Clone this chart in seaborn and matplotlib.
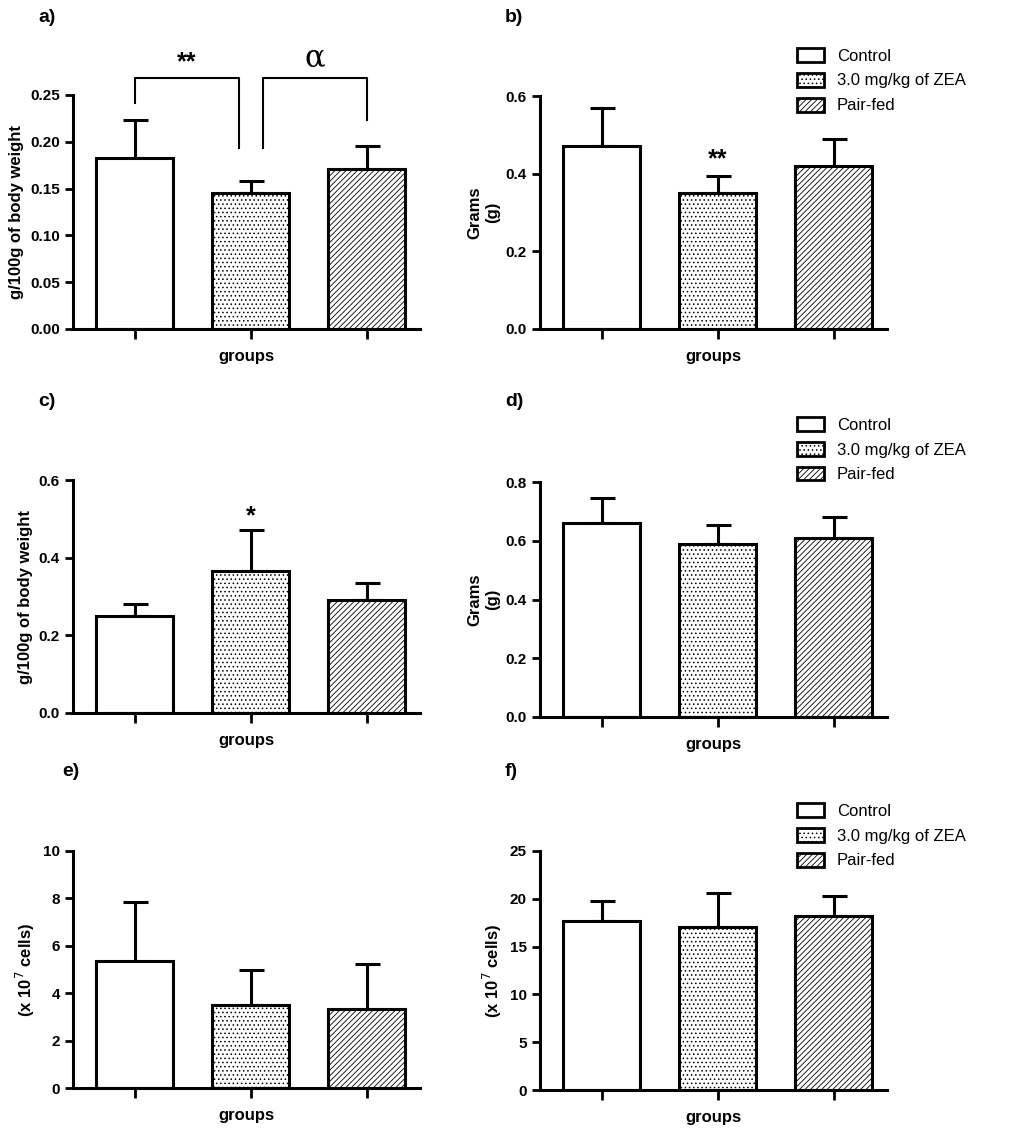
import matplotlib
matplotlib.use("Agg")
import matplotlib.pyplot as plt
import seaborn as sns
import pandas as pd
import numpy as np
from matplotlib.patches import Patch

plt.rcParams['font.family'] = 'Liberation Sans'
plt.rcParams['hatch.linewidth'] = 0.6

groups = ["Control", "3.0 mg/kg of ZEA", "Pair-fed"]
a_mean = [0.183, 0.145, 0.171]; a_sd = [0.040, 0.013, 0.024]
b_mean = [0.47, 0.35, 0.42];    b_sd = [0.10, 0.045, 0.07]
c_mean = [0.25, 0.365, 0.29];   c_sd = [0.03, 0.105, 0.045]
d_mean = [0.66, 0.59, 0.61];    d_sd = [0.085, 0.065, 0.07]
e_mean = [5.35, 3.5, 3.35];     e_sd = [2.5, 1.5, 1.9]
f_mean = [17.7, 17.0, 18.2];    f_sd = [2.1, 3.6, 2.1]

hatches = ["", "....", "//////"]
W, H = 1024, 1137
fig = plt.figure(figsize=(W/100, H/100), dpi=100)

def ax_px(left, top_y, bot_y, width=347):
    return fig.add_axes([left/W, 1-bot_y/H, width/W, (bot_y-top_y)/H])

def panel(ax, mean, sd, ymax, ystep, ylabel, fmt):
    df = pd.DataFrame({"group": groups, "value": mean})
    sns.barplot(data=df, x="group", y="value", ax=ax, color="white",
                edgecolor="black", linewidth=2.2, width=0.66, errorbar=None)
    for p, h in zip(ax.patches, hatches):
        p.set_hatch(h); p.set_zorder(2)
    xs = [p.get_x() + p.get_width()/2 for p in ax.patches]
    ax.errorbar(xs, mean, yerr=[np.zeros(3), sd], fmt="none", ecolor="black",
                elinewidth=2.2, capsize=9, capthick=2.2, zorder=1)
    ax.set_xlim(-0.53, 2.46)
    ax.set_ylim(0, ymax)
    ticks = np.arange(0, ymax + ystep/2, ystep)
    ax.set_yticks(ticks)
    ax.set_yticklabels([fmt.format(t) for t in ticks], fontweight="bold", fontsize=11)
    ax.set_xticks([0, 1, 2]); ax.set_xticklabels([])
    ax.tick_params(axis="x", direction="out", length=7, width=2)
    ax.tick_params(axis="y", direction="out", length=6, width=2)
    ax.set_xlabel("groups", fontweight="bold", fontsize=12)
    ax.set_ylabel(ylabel, fontweight="bold", fontsize=12)
    sns.despine(ax=ax)
    for s in ["left", "bottom"]:
        ax.spines[s].set_linewidth(2.2)

def legend(x, y):
    handles = [Patch(facecolor="white", edgecolor="black", hatch=h, linewidth=2, label=g)
               for g, h in zip(groups, hatches)]
    fig.legend(handles=handles, loc="upper left", bbox_to_anchor=(x/W, 1-y/H),
               frameon=False, fontsize=12, handlelength=1.6, handleheight=0.9,
               labelspacing=0.55)

axa = ax_px(73, 95, 329)
panel(axa, a_mean, a_sd, 0.25, 0.05, "g/100g of body weight", "{:.2f}")
kw = dict(color="black", lw=1.5, clip_on=False)
axa.plot([0, 0, 0.9, 0.9], [0.2415, 0.268, 0.268, 0.193], **kw)
axa.plot([1.11, 1.11, 2.0, 2.0], [0.193, 0.268, 0.268, 0.223], **kw)
axa.text(0.45, 0.285, "**", ha="center", va="center", fontsize=18, fontweight="bold")
axa.text(1.55, 0.29, "α", ha="center", va="center", fontsize=22, family="DejaVu Serif")

axb = ax_px(540, 96, 329)
panel(axb, b_mean, b_sd, 0.6, 0.2, "Grams\n(g)", "{:.1f}")
axb.text(1, 0.405, "**", ha="center", va="bottom", fontsize=18, fontweight="bold")

axc = ax_px(73, 480, 713)
panel(axc, c_mean, c_sd, 0.6, 0.2, "g/100g of body weight", "{:.1f}")
axc.text(1, 0.475, "*", ha="center", va="bottom", fontsize=18, fontweight="bold")

axd = ax_px(540, 482, 717)
panel(axd, d_mean, d_sd, 0.8, 0.2, "Grams\n(g)", "{:.1f}")

axe = ax_px(73, 851, 1088)
panel(axe, e_mean, e_sd, 10, 2, "(x 10$^7$ cells)", "{:.0f}")

axf = ax_px(540, 851, 1090)
panel(axf, f_mean, f_sd, 25, 5, "(x 10$^7$ cells)", "{:.0f}")

for x, y, t in [(38, 18, "a)"), (505, 18, "b)"), (38, 402, "c)"), (505, 402, "d)"),
                (62, 772, "e)"), (505, 772, "f)")]:
    fig.text(x/W, 1-y/H, t, fontsize=14, fontweight="bold", va="center")

legend(782, 33)
legend(782, 402)
legend(782, 788)

fig.savefig("out.png", dpi=100)
